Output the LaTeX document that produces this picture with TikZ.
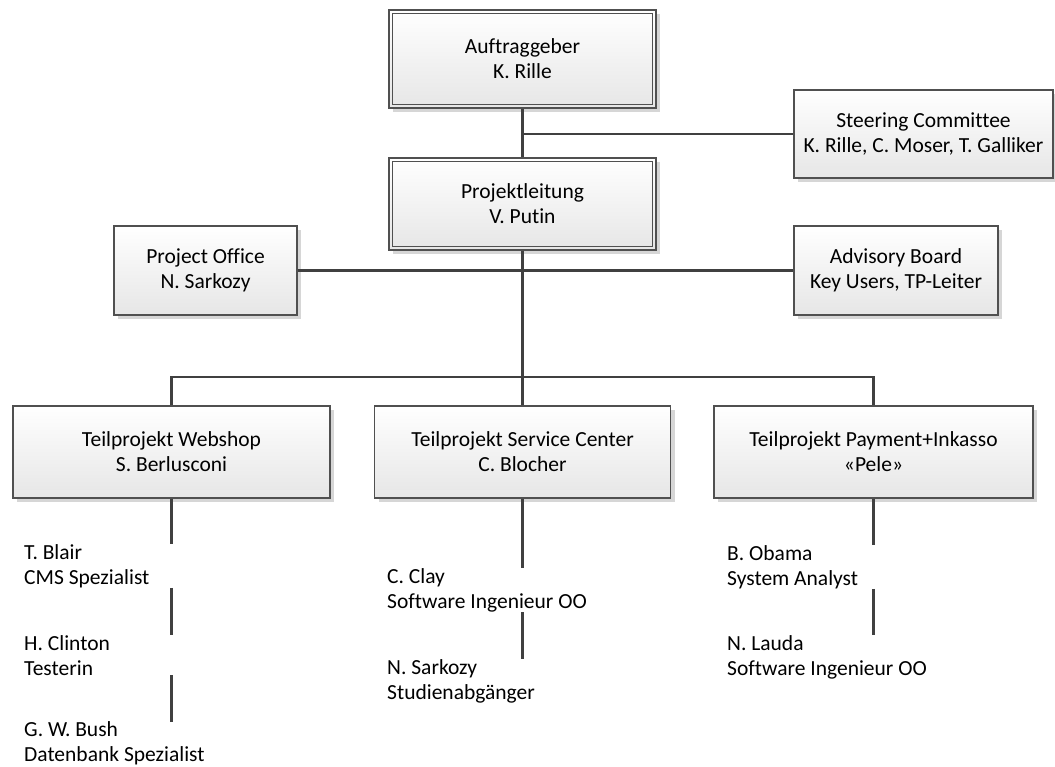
\documentclass[tikz,border=0pt]{standalone}
\usepackage{fontspec}
\setmainfont{Carlito}[Ligatures=NoCommon]
\usetikzlibrary{shadows}
\definecolor{boxline}{HTML}{505050}
\definecolor{conncol}{HTML}{404040}
\definecolor{boxbot}{HTML}{E6E6E6}
\tikzset{
  orgbox/.style={draw=boxline, line width=1.1pt, top color=white, bottom color=boxbot,
    drop shadow={shadow xshift=4pt, shadow yshift=-4pt, fill=black!16, opacity=1},
    align=center, inner sep=0pt, font=\fontsize{21.5}{25}\selectfont},
  member/.style={anchor=north west, align=left, inner sep=0pt, font=\fontsize{21.5}{25}\selectfont},
  conn/.style={draw=conncol, line width=2.6pt},
  innerframe/.style={draw=boxline, line width=1.1pt}
}
\begin{document}
\begin{tikzpicture}[x=1pt,y=-1pt]
\useasboundingbox (0,0) rectangle (1055,767);

% boxes
\node[orgbox, minimum width=267pt, minimum height=98pt] (auf) at (522.5,59) {Auftraggeber\\K. Rille};
\node[orgbox, minimum width=267pt, minimum height=92pt] (pl) at (522.5,204) {Projektleitung\\V. Putin};
\node[orgbox, minimum width=259pt, minimum height=88pt] (sc) at (923.5,134) {Steering Committee\\K. Rille, C. Moser, T. Galliker};
\node[orgbox, minimum width=183pt, minimum height=89pt] (po) at (205.5,270.5) {Project Office\\N. Sarkozy};
\node[orgbox, minimum width=204pt, minimum height=89pt] (ab) at (896,270.5) {Advisory Board\\Key Users, TP-Leiter};
\node[orgbox, minimum width=317pt, minimum height=92pt] (web) at (171.5,452) {Teilprojekt Webshop\\S. Berlusconi};
\node[orgbox, minimum width=296pt, minimum height=92pt] (svc) at (522.5,452) {Teilprojekt Service Center\\C. Blocher};
\node[orgbox, minimum width=319pt, minimum height=92pt] (pay) at (873.5,452) {Teilprojekt Payment+Inkasso\\«Pele»};

% double frames
\draw[innerframe] ([shift={(4,4)}]auf.north west) rectangle ([shift={(-4,-4)}]auf.south east);
\draw[innerframe] ([shift={(4,4)}]pl.north west) rectangle ([shift={(-4,-4)}]pl.south east);

% members
\node[member] (blair) at (24,544) {T. Blair\\CMS Spezialist};
\node[member] (clinton) at (24,635) {H. Clinton\\Testerin};
\node[member] (bush) at (24,721.5) {G. W. Bush\\Datenbank Spezialist};
\node[member] (clay) at (387,568) {C. Clay\\Software Ingenieur OO};
\node[member] (sarkozy) at (387,659) {N. Sarkozy\\Studienabgänger};
\node[member] (obama) at (727,545) {B. Obama\\System Analyst};
\node[member] (lauda) at (727,635) {N. Lauda\\Software Ingenieur OO};

% connectors
\coordinate (j1) at (522.5,134);
\coordinate (bus) at (522.5,377);
\draw[conn] (auf.south) -- (pl.north);
\draw[conn] (j1) -- (sc.west);
\draw[conn] (po.east) -- (ab.west);
\draw[conn] (pl.south) -- (svc.north);
\draw[conn] (web.north) -- (web.north |- bus) -- (pay.north |- bus) -- (pay.north);

\draw[conn] (web.south) -- (web.south |- blair.north);
\draw[conn] (web.south |- blair.south) -- (web.south |- clinton.north);
\draw[conn] (web.south |- clinton.south) -- (web.south |- bush.north);
\draw[conn] (svc.south) -- (svc.south |- clay.north);
\draw[conn] (svc.south |- clay.south) -- (svc.south |- sarkozy.north);
\draw[conn] (pay.south) -- (pay.south |- obama.north);
\draw[conn] (pay.south |- obama.south) -- (pay.south |- lauda.north);
\end{tikzpicture}
\end{document}
